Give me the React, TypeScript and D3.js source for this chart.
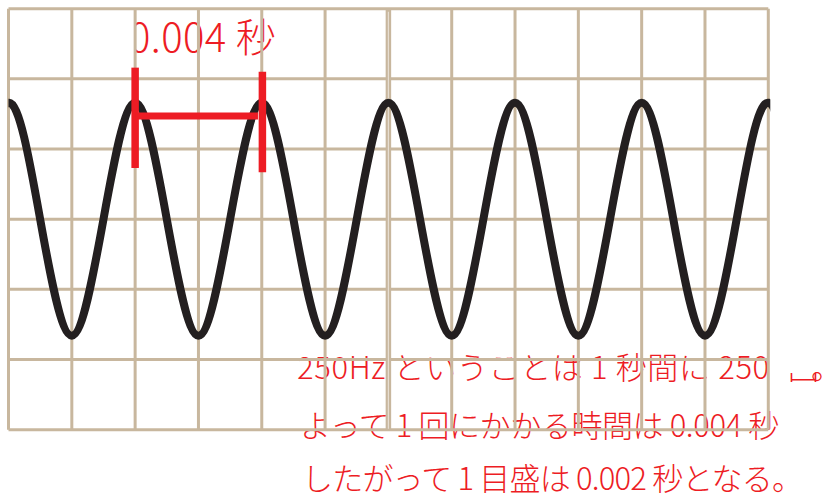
import React from 'react';
import * as d3 from 'd3';

// time divisions (seconds) and voltage divisions of the scope grid
const timeTicks = [0, 0.002, 0.004, 0.006, 0.008, 0.01, 0.012, 0.014, 0.016, 0.018, 0.02, 0.022, 0.024];
const levelTicks = [-3, -2, -1, 0, 1, 2, 3];

// 250Hz wave at quarter periods (peak, zero, trough, zero ...)
const waveTimes = [
  -0.002, -0.001, 0, 0.001, 0.002, 0.003, 0.004, 0.005, 0.006, 0.007, 0.008, 0.009, 0.01,
  0.011, 0.012, 0.013, 0.014, 0.015, 0.016, 0.017, 0.018, 0.019, 0.02, 0.021, 0.022,
  0.023, 0.024, 0.025, 0.026,
];
const waveValues = [
  -1.66, 0, 1.66, 0, -1.66, 0, 1.66, 0, -1.66, 0, 1.66, 0, -1.66,
  0, 1.66, 0, -1.66, 0, 1.66, 0, -1.66, 0, 1.66, 0, -1.66,
  0, 1.66, 0, -1.66,
];

// one period marker (0.004 s)
const periodStart = 0.004;
const periodEnd = 0.00802;
const periodBarEnd = 0.00788;

const periodLabel = '0.004 秒';
const noteLine1 = '250Hz ということは 1 秒間に 250 ';
const noteLine1Tail = ['回', '。'];
const noteLine2 = 'よって 1 回にかかる時間は 0.004 秒';
const noteLine3 = 'したがって 1 目盛は 0.002 秒となる。';

const W = 831;
const H = 495;
const tan = '#c8b79e';
const red = '#ed1c24';
const ink = '#231f20';
const font = '"Noto Sans CJK JP", "Noto Sans", sans-serif';

export default function App() {
  const x = d3.scaleLinear().domain([0, 0.024]).range([8.5, 768.3]);
  const y = d3.scaleLinear().domain([-3, 3]).range([429.7, 8.7]);

  const pts: [number, number][] = waveTimes.map((t, i) => [t, waveValues[i]]);
  const line = d3
    .line<[number, number]>()
    .x((d) => x(d[0]))
    .y((d) => y(d[1]))
    .curve(d3.curveNatural);

  const mid = 0.012;

  return (
    <svg
      width={W}
      height={H}
      viewBox={`0 0 ${W} ${H}`}
      style={{ position: 'absolute', left: 0, top: 0, background: '#fff' }}
    >
      <defs>
        <clipPath id="labelClip">
          <rect x={135} y={0} width={300} height={70} />
        </clipPath>
        <clipPath id="kaiClip">
          <rect x={700} y={373} width={120} height={40} />
        </clipPath>
        <clipPath id="plotClip">
          <rect x={x(0)} y={0} width={x(0.024) - x(0) + 2} height={H} />
        </clipPath>
      </defs>

      {/* notes sit under the grid */}
      <g fill={red} fontFamily={font} fontWeight={300}>
        <text x={129} y={52} fontSize={40} letterSpacing={0.4} clipPath="url(#labelClip)">
          {periodLabel}
        </text>
        <g fontSize={31}>
          <text x={297} y={379} letterSpacing={0.65}>{noteLine1}</text>
          <text x={788} y={379} clipPath="url(#kaiClip)">{noteLine1Tail[0]}</text>
          <text x={811} y={379}>{noteLine1Tail[1]}</text>
          <text x={300} y={437} letterSpacing={-0.4}>{noteLine2}</text>
          <text x={302} y={490} letterSpacing={-0.8}>{noteLine3}</text>
        </g>
      </g>

      {/* grid */}
      <g stroke={tan} strokeWidth={3}>
        {timeTicks.map((t) => (
          <line key={'v' + t} x1={x(t)} x2={x(t)} y1={y(3)} y2={y(-3)} />
        ))}
        {levelTicks.map((v) => (
          <line key={'h' + v} x1={x(0)} x2={x(0.024)} y1={y(v)} y2={y(v)} />
        ))}
        <line x1={x(mid)} x2={x(mid)} y1={y(3)} y2={y(-3)} strokeWidth={5.5} />
        <line x1={x(mid)} x2={x(mid)} y1={y(3) + 3} y2={y(-3) - 1} stroke="#e6ddd0" strokeWidth={1.2} />
      </g>

      {/* wave */}
      <path
        d={line(pts) || ''}
        fill="none"
        stroke={ink}
        strokeWidth={8}
        clipPath="url(#plotClip)"
      />

      {/* period marker */}
      <g stroke={red}>
        <line x1={x(periodStart)} x2={x(periodStart)} y1={y(2.16)} y2={y(0.73)} strokeWidth={7.5} />
        <line x1={x(periodEnd)} x2={x(periodEnd)} y1={y(2.1)} y2={y(0.67)} strokeWidth={7.5} />
        <line x1={x(periodStart)} x2={x(periodBarEnd)} y1={y(1.47)} y2={y(1.47)} strokeWidth={7} />
      </g>
    </svg>
  );
}
